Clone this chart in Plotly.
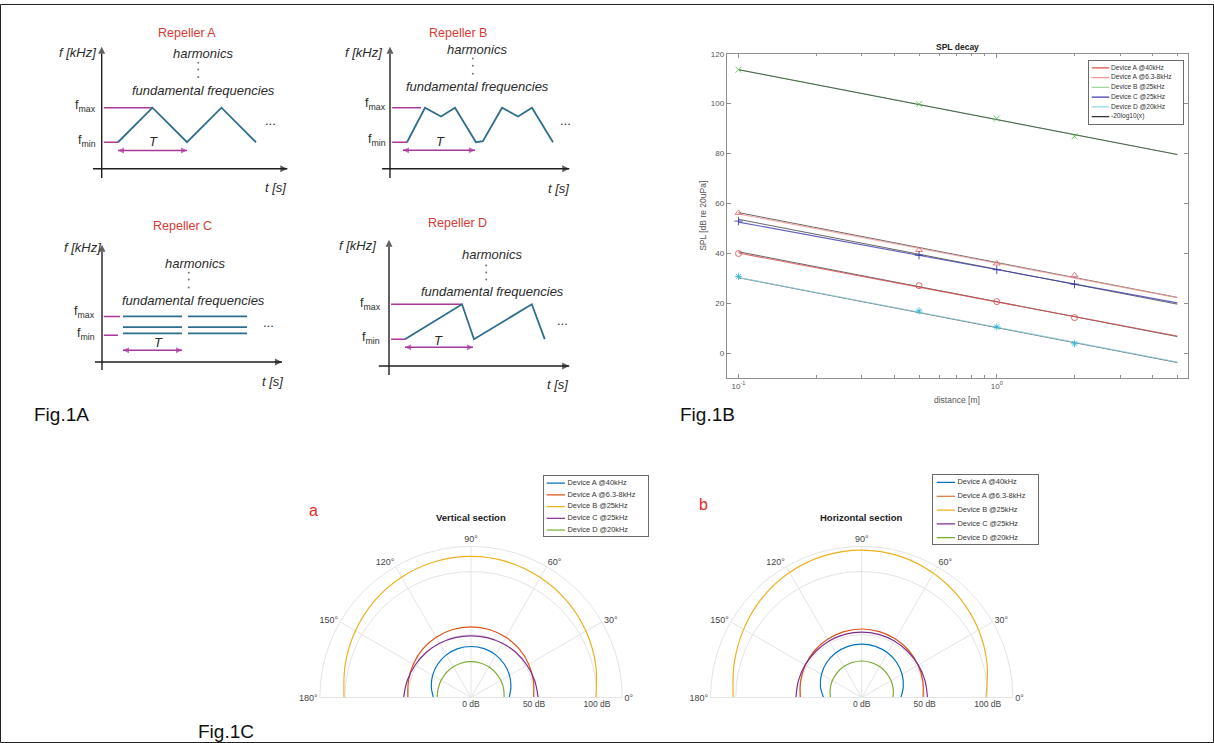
import math
import plotly.graph_objects as go

W, H = 1214, 743


def px(x):
    return x / W


def py(y):
    return 1 - y / H


# ======================= DATA =======================
# Fig.1A - schematic frequency sweeps (t in units of the period T, f normalised so f_min = 1)
rep_names = ['Repeller A', 'Repeller B', 'Repeller C', 'Repeller D']
repA_t = [0.236, 0.736, 1.236, 1.736, 2.236]
repA_f = [1.0, 2.3, 1.0, 2.3, 1.0]
repB_t = [0.236, 0.486, 0.708, 0.903, 1.194, 1.29, 1.556, 1.778, 1.972, 2.264]
repB_f = [1.0, 2.3, 1.97, 2.3, 1.0, 1.04, 2.3, 1.97, 2.3, 1.0]
repC_levels = [1.70, 1.30, 1.07]
repC_bursts = [[0.356, 1.356], [1.458, 2.458]]
repD_t = [0.235, 1.074, 1.25, 2.10, 2.29]
repD_f = [1.0, 2.3, 1.0, 2.3, 1.0]
rep_fmin = [1.0, 1.0, 1.0, 1.0]
rep_fmax = [2.3, 2.3, 1.70, 2.3]
rep_fmin_end = [0.236, 0.236, 0.27, 0.235]
rep_fmax_end = [0.736, 0.43, 0.305, 1.074]
rep_T = [[0.236, 1.236], [0.18, 1.18], [0.356, 1.356], [0.235, 1.235]]

# Fig.1B - SPL decay
distance = [0.1, 0.5, 1, 2]
fit_distance = [0.1, 5]
spl_names = ['Device A @40kHz', 'Device A @6.3-8kHz', 'Device B @25kHz',
             'Device C @25kHz', 'Device D @20kHz']
ref_name = '-20log10(x)'
spl_A40 = [39.9, 27.0, 20.6, 14.2]
spl_A63 = [56.2, 41.3, 35.9, 31.2]
spl_B25 = [113.6, 99.8, 94.0, 86.9]
spl_C25 = [52.9, 39.2, 33.4, 27.6]
spl_D20 = [30.7, 16.9, 10.5, 3.7]
fit_A40 = [40.1, 6.8]
fit_A63 = [55.8, 22.2]
fit_B25 = [113.6, 79.6]
fit_C25 = [52.5, 20.1]
fit_D20 = [30.3, -3.6]
ref_A40 = [40.6, 6.6]
ref_A63 = [56.3, 22.3]
ref_B25 = [113.6, 79.6]
ref_C25 = [53.6, 19.6]
ref_D20 = [30.2, -3.8]

# Fig.1C - directivity (dB) vs angle
polar_theta = [0, 15, 30, 45, 60, 75, 90, 105, 120, 135, 150, 165, 180]
polar_names = ['Device A @40kHz', 'Device A @6.3-8kHz', 'Device B @25kHz',
               'Device C @25kHz', 'Device D @20kHz']
vert_A40 = [30.3, 32.8, 35.3, 37.4, 39.1, 40.2, 40.5, 40.2, 39.1, 37.4, 35.2, 32.6, 29.8]
vert_A63 = [49.7, 51.3, 52.9, 54.3, 55.3, 55.9, 56.1, 55.9, 55.3, 54.3, 52.9, 51.4, 50.1]
vert_B25 = [99.2, 102.4, 105.4, 108.0, 110.0, 111.5, 112.0, 111.6, 110.3, 108.4, 105.9, 103.3, 100.8]
vert_C25 = [53.3, 52.3, 51.3, 50.5, 49.7, 49.2, 49.0, 49.2, 49.7, 50.5, 51.3, 52.4, 53.5]
vert_D20 = [26.3, 26.8, 27.3, 27.8, 28.2, 28.4, 28.5, 28.4, 28.2, 27.8, 27.4, 27.0, 26.9]
horz_A40 = [31.1, 34.2, 37.0, 39.3, 41.0, 42.1, 42.4, 42.1, 41.0, 39.3, 36.9, 33.9, 30.3]
horz_A63 = [48.7, 50.2, 51.6, 52.8, 53.7, 54.2, 54.4, 54.2, 53.7, 52.8, 51.6, 50.2, 48.7]
horz_B25 = [98.6, 103.0, 107.2, 110.8, 113.9, 116.2, 117.0, 116.4, 114.6, 111.8, 108.2, 104.8, 102.0]
horz_C25 = [52.2, 52.0, 51.8, 51.7, 51.8, 51.9, 52.0, 51.9, 51.8, 51.7, 51.8, 52.0, 52.2]
horz_D20 = [24.9, 25.9, 26.9, 27.7, 28.4, 28.8, 29.0, 28.8, 28.4, 27.7, 26.9, 25.9, 24.8]
polar_r_ticks = [0, 50, 100]
polar_r_labels = ['0 dB', '50 dB', '100 dB']
polar_angles = [0, 30, 60, 90, 120, 150, 180]

# ======================= STYLE =======================
FONT = 'Liberation Sans'
TEAL = '#2f6d8c'
MAG = '#a9379c'
AXC = '#1e1e1e'
TXT = '#2b2b2b'
RED = '#d83a34'
AXG = '#8f8f8f'
spl_line_colors = ['#d84a4a', '#f09a9a', '#9fd89f', '#3b3bb0', '#8fd8ea']
spl_marker_colors = ['#e04545', '#e86060', '#4cc24c', '#2a2aa8', '#2ab4d4']
spl_symbols = ['circle-open', 'triangle-up-open', 'x-thin-open', 'cross-thin-open', 'asterisk-open']
polar_colors = ['#0072BD', '#D95319', '#EDB120', '#7E2F8E', '#77AC30']

fig = go.Figure()
axes = {}
ann = []


def text(x, y, s, size, color=TXT, xanchor='center', yanchor='middle', textangle=0, family=FONT):
    ann.append(dict(xref='paper', yref='paper', x=px(x), y=py(y), text=s, showarrow=False,
                    xanchor=xanchor, yanchor=yanchor, textangle=textangle,
                    font=dict(family=family, size=size, color=color)))


def arrow_line(n, xs, ys, symbols, sizes, color, width):
    fig.add_trace(go.Scatter(x=xs, y=ys, mode='lines+markers', line=dict(color=color, width=width),
                             marker=dict(symbol=symbols, size=sizes, color=color, line=dict(width=0)),
                             xaxis=f'x{n}', yaxis=f'y{n}', cliponaxis=False,
                             showlegend=False, hoverinfo='skip'))


# ======================= Fig.1A =======================
geo = [
    dict(ox=101.7, oy=165.7, sx=69, sy=26.7, box=(40, 12, 320, 200), xspan=(-0.126, 2.69), yspan=(-0.35, 4.6),
         Tf=0.69, title=(187, 29), fk=(77, 49), harm=(203, 50), dots=(1.40, [3.99, 3.74, 3.46]),
         fund=(203, 87), Tl=(153, 138), ell=(270, 117), ts=(275, 184), fmaxl=(98, 103), fminl=(98, 138)),
    dict(ox=390, oy=165.7, sx=72, sy=26.7, box=(330, 12, 620, 200), xspan=(-0.11, 2.49), yspan=(-0.35, 4.6),
         Tf=0.70, title=(458, 29), fk=(363, 49), harm=(477, 46), dots=(1.15, [4.15, 3.88, 3.58]),
         fund=(477, 83), Tl=(440, 138), ell=(565, 117), ts=(558, 186), fmaxl=(388, 101), fminl=(388, 137)),
    dict(ox=102, oy=360, sx=59, sy=27, box=(40, 205, 320, 395), xspan=(-0.12, 3.05), yspan=(-0.3, 4.37),
         Tf=0.44, title=(182, 223), fk=(82, 245), harm=(195, 261), dots=(1.47, [3.33, 3.07, 2.78]),
         fund=(193, 298), Tl=(158, 340), ell=(268, 320), ts=(272, 380), fmaxl=(97, 310), fminl=(97, 332)),
    dict(ox=389, oy=364, sx=68, sy=27, box=(330, 205, 620, 395), xspan=(-0.15, 2.65), yspan=(-0.33, 4.70),
         Tf=0.70, title=(457, 220), fk=(357, 243), harm=(492, 252), dots=(1.43, [3.74, 3.48, 3.22]),
         fund=(492, 289), Tl=(438, 338), ell=(562, 318), ts=(557, 383), fmaxl=(383, 302), fminl=(382, 336)),
]

waves = [(repA_t, repA_f), (repB_t, repB_f)]
cx, cy = [], []
for lvl in repC_levels:
    for b0, b1 in repC_bursts:
        cx += [b0, b1, None]
        cy += [lvl, lvl, None]
waves.append((cx, cy))
waves.append((repD_t, repD_f))

for k, g in enumerate(geo):
    n = k + 1
    x0, y0, x1, y1 = g['box']
    axes[f'xaxis{n}'] = dict(domain=[px(x0), px(x1)], anchor=f'y{n}', visible=False, fixedrange=True,
                             range=[(x0 - g['ox']) / g['sx'], (x1 - g['ox']) / g['sx']])
    axes[f'yaxis{n}'] = dict(domain=[py(y1), py(y0)], anchor=f'x{n}', visible=False, fixedrange=True,
                             range=[(g['oy'] - y1) / g['sy'], (g['oy'] - y0) / g['sy']])
    xa, ya = f'x{n}', f'y{n}'
    # fmin / fmax markers
    fig.add_trace(go.Scatter(x=[0.03, rep_fmax_end[k], None, 0.03, rep_fmin_end[k]],
                             y=[rep_fmax[k], rep_fmax[k], None, rep_fmin[k], rep_fmin[k]],
                             mode='lines', line=dict(color=MAG, width=1.5), xaxis=xa, yaxis=ya,
                             showlegend=False, hoverinfo='skip'))
    # waveform
    wt, wf = waves[k]
    fig.add_trace(go.Scatter(x=wt, y=wf, mode='lines', line=dict(color=TEAL, width=1.8),
                             xaxis=xa, yaxis=ya, showlegend=False, hoverinfo='skip'))
    # vertical ellipsis dots
    dt, dfs = g['dots']
    fig.add_trace(go.Scatter(x=[dt] * len(dfs), y=dfs, mode='markers',
                             marker=dict(size=2, color='#777'), xaxis=xa, yaxis=ya,
                             showlegend=False, hoverinfo='skip', cliponaxis=False))
    # axes arrows
    arrow_line(n, [g['xspan'][0], g['xspan'][1]], [0, 0], ['circle', 'arrow-right'], [0, 7], AXC, 1.4)
    arrow_line(n, [0, 0], [g['yspan'][0], g['yspan'][1]], ['circle', 'arrow-up'], [0, 7], AXC, 1.4)
    # period arrow
    arrow_line(n, rep_T[k], [g['Tf'], g['Tf']], ['arrow-left', 'arrow-right'], [6, 6], MAG, 1.4)
    # texts
    text(*g['title'], rep_names[k], 12.5, RED)
    text(*g['fk'], '<i>f [kHz]</i>', 13)
    text(*g['harm'], '<i>harmonics</i>', 13)
    text(*g['fund'], '<i>fundamental frequencies</i>', 13)
    text(*g['Tl'], '<i>T</i>', 13)
    text(*g['ell'], '...', 13)
    text(*g['ts'], '<i>t [s]</i>', 13)
    text(*g['fmaxl'], 'f<sub>max</sub>', 12.5, xanchor='right')
    text(*g['fminl'], 'f<sub>min</sub>', 12.5, xanchor='right')

# ======================= Fig.1B =======================
L, R_, T_, B_ = 726.7, 1188, 50, 376
minor_vals = [0.2, 0.3, 0.4, 0.5, 0.6, 0.7, 0.8, 0.9, 2, 3, 4, 5]
axes['xaxis5'] = dict(domain=[px(L), px(R_)], anchor='y5', type='log',
                      range=[math.log10(0.09), math.log10(5.5)],
                      tickmode='array', tickvals=[0.1, 1], ticktext=['10<sup>-1</sup>', '10<sup>0</sup>'],
                      ticks='inside', ticklen=4, tickcolor=AXG, showline=True, linecolor=AXG, linewidth=1,
                      mirror='ticks', showgrid=False, zeroline=False,
                      minor=dict(ticks='inside', ticklen=2.5, tickcolor=AXG, tickmode='array',
                                 tickvals=minor_vals, showgrid=False),
                      tickfont=dict(family=FONT, size=8, color='#555'))
axes['yaxis5'] = dict(domain=[py(B_), py(T_)], anchor='x5', range=[-10, 120],
                      tickmode='linear', tick0=0, dtick=20, ticks='inside', ticklen=4, tickcolor=AXG,
                      showline=True, linecolor=AXG, linewidth=1, mirror='ticks', showgrid=False,
                      zeroline=False, tickfont=dict(family=FONT, size=8, color='#555'))

spl_meas = [spl_A40, spl_A63, spl_B25, spl_C25, spl_D20]
spl_fit = [fit_A40, fit_A63, fit_B25, fit_C25, fit_D20]
spl_ref = [ref_A40, ref_A63, ref_B25, ref_C25, ref_D20]
# Device B fit sits underneath its reference line
fig.add_trace(go.Scatter(x=fit_distance, y=spl_fit[2], mode='lines',
                         line=dict(color=spl_line_colors[2], width=1.2), xaxis='x5', yaxis='y5',
                         showlegend=False, name=spl_names[2]))
for i in range(5):
    fig.add_trace(go.Scatter(x=fit_distance, y=spl_ref[i], mode='lines',
                             line=dict(color='#3a3a3a', width=0.9), opacity=0.85, xaxis='x5', yaxis='y5',
                             showlegend=False, name=ref_name))
for i in [0, 1, 3, 4]:
    fig.add_trace(go.Scatter(x=fit_distance, y=spl_fit[i], mode='lines', opacity=0.8,
                             line=dict(color=spl_line_colors[i], width=1.1), xaxis='x5', yaxis='y5',
                             showlegend=False, name=spl_names[i]))
for i in range(5):
    fig.add_trace(go.Scatter(x=distance, y=spl_meas[i], mode='markers',
                             marker=dict(symbol=spl_symbols[i], size=6, color=spl_marker_colors[i],
                                         line=dict(width=0.8, color=spl_marker_colors[i])),
                             xaxis='x5', yaxis='y5', showlegend=False, name=spl_names[i]))

text((L + R_) / 2, 43, '<b>SPL decay</b>', 8.5, '#222')
text(703, (T_ + B_) / 2, 'SPL [dB re 20uPa]', 8.5, '#555', textangle=-90)
text((L + R_) / 2, 398, 'distance [m]', 8.5, '#555')


# ======================= custom legends =======================
def add_legend(n, box, first_y, step, names, colors, fsize, line_px, text_px):
    x0, y0, x1, y1 = box
    axes[f'xaxis{n}'] = dict(domain=[px(x0), px(x1)], range=[x0, x1], anchor=f'y{n}', showline=True,
                             mirror=True, linecolor='#6a6a6a', linewidth=1, showgrid=False, zeroline=False,
                             showticklabels=False, ticks='', fixedrange=True)
    axes[f'yaxis{n}'] = dict(domain=[py(y1), py(y0)], range=[y1, y0], anchor=f'x{n}', showline=True,
                             mirror=True, linecolor='#6a6a6a', linewidth=1, showgrid=False, zeroline=False,
                             showticklabels=False, ticks='', fixedrange=True)
    ys = [first_y + i * step for i in range(len(names))]
    for i, c in enumerate(colors):
        fig.add_trace(go.Scatter(x=[line_px[0], line_px[1]], y=[ys[i], ys[i]], mode='lines',
                                 line=dict(color=c, width=1.2), xaxis=f'x{n}', yaxis=f'y{n}',
                                 showlegend=False, hoverinfo='skip'))
    fig.add_trace(go.Scatter(x=[text_px] * len(names), y=ys, mode='text', text=names,
                             textposition='middle right', cliponaxis=False,
                             textfont=dict(family=FONT, size=fsize, color='#333'),
                             xaxis=f'x{n}', yaxis=f'y{n}', showlegend=False, hoverinfo='skip'))


add_legend(6, (1089, 57, 1183, 121), 64.3, 9.8, spl_names + [ref_name],
           spl_line_colors + ['#333333'], 6.6, (1091.7, 1109.3), 1111.0)
add_legend(7, (544, 475, 648, 535), 481.7, 11.8, polar_names, polar_colors, 7.4, (546.7, 565), 567.5)
add_legend(8, (933.3, 474, 1037.7, 543.3), 481.0, 13.9, polar_names, polar_colors, 7.4, (936.7, 955), 957.5)

# ======================= Fig.1C =======================
RP = 152
CY = 697.3


def polar_layout(cx):
    return dict(domain=dict(x=[px(cx - RP), px(cx + RP)], y=[py(CY), py(CY - RP)]),
                sector=[0, 180], bgcolor='white',
                angularaxis=dict(direction='counterclockwise', rotation=0, tickmode='array',
                                 tickvals=polar_angles, ticktext=[f'{a}°' for a in polar_angles],
                                 showline=True, linecolor='#e4e4e4', linewidth=1, gridcolor='#e4e4e4',
                                 ticks='', tickfont=dict(family=FONT, size=9, color='#444')),
                radialaxis=dict(range=[0, 120], tickmode='array', tickvals=polar_r_ticks,
                                ticktext=polar_r_labels, angle=0, side='clockwise', showline=False,
                                gridcolor='#e4e4e4', ticks='',
                                tickfont=dict(family=FONT, size=8.5, color='#444')))


vert = [vert_A40, vert_A63, vert_B25, vert_C25, vert_D20]
horz = [horz_A40, horz_A63, horz_B25, horz_C25, horz_D20]
for sub, data in [('polar', vert), ('polar2', horz)]:
    for i in range(5):
        fig.add_trace(go.Scatterpolar(r=data[i], theta=polar_theta, mode='lines', subplot=sub,
                                      line=dict(color=polar_colors[i], width=1.2, shape='spline'),
                                      showlegend=False, name=polar_names[i]))

text(470.7, 516.7, '<b>Vertical section</b>', 9.5, '#222')
text(861.7, 516.7, '<b>Horizontal section</b>', 9.5, '#222')
text(313, 509, 'a', 16, '#e8262a')
text(703, 503, 'b', 16, '#e8262a')

# figure labels
text(32, 413, 'Fig.1A', 19, '#111', xanchor='left')
text(678, 413, 'Fig.1B', 19, '#111', xanchor='left')
text(196, 731, 'Fig.1C', 19, '#111', xanchor='left')

fig.update_layout(
    width=W, height=H, margin=dict(l=0, r=0, t=0, b=0), autosize=False,
    paper_bgcolor='white', plot_bgcolor='white', showlegend=False,
    polar=polar_layout(471), polar2=polar_layout(861.7),
    annotations=ann,
    shapes=[dict(type='rect', xref='paper', yref='paper', x0=px(0.5), x1=px(W - 0.5), y0=py(H - 0.5),
                 y1=py(0.5), line=dict(color='#222', width=1))],
    **axes,
)

fig.write_html('out.html', config={'displayModeBar': False},
               post_script="document.body.style.margin='0px';document.body.style.overflow='hidden';")
